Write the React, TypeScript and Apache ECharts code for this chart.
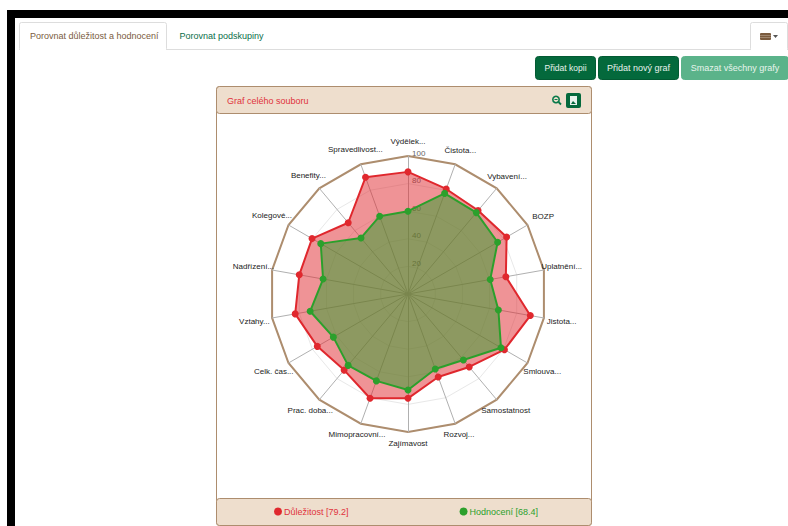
import React, { useEffect, useRef } from "react";
import * as echarts from "echarts";

const categories = ["Výdělek...","Čistota...","Vybavení...","BOZP","Uplatnění...","Jistota...","Smlouva...","Samostatnost","Rozvoj...","Zajímavost","Mimopracovní...","Prac. doba...","Celk. čas...","Vztahy...","Nadřízení...","Kolegové...","Benefity...","Spravedlivost..."];
const importance = [88.5,81,79,82.5,72,90,80.7,69,64,75.6,80.4,72,75.9,83,80,80.3,67.4,90];
const rating = [60,77.6,77,75,60.5,66.5,77.8,62.4,57.8,69.6,67,67.5,62.5,72,62.5,73,53,60];
const importanceLabel = "Důležitost [79.2]";
const ratingLabel = "Hodnocení [68.4]";
const FONT = "'Liberation Sans', Arial, sans-serif";
const BROWN = "#ad8d6e";
const HEAD = "#eedecd";
const DARK = "#04693c";
const labelGaps = [15,15,16,18,18,18,17,14,11,11,11,14,17,18,19,19,17,16];

// ECharts lays radar indicators out anticlockwise; the chart reads clockwise from the top.
const clockwise = <T,>(list: T[]): T[] => [list[0], ...list.slice(1).reverse()];

const txt = (x: number, y: number, text: string, fill: string, size = 9, align = "left") => ({
  type: "text", x, y, silent: true,
  style: { text, fill, font: `${size}px ${FONT}`, textAlign: align, textVerticalAlign: "middle" },
});
const box = (x: number, y: number, w: number, h: number, fill: string, stroke = "none", r = 2, lw = 1) => ({
  type: "rect", silent: true, shape: { x, y, width: w, height: h, r },
  style: { fill, stroke, lineWidth: lw },
});

export default function App() {
  const ref = useRef<HTMLDivElement>(null);
  useEffect(() => {
    const chart = echarts.init(ref.current!, null, { renderer: "svg" });
    const indicator = clockwise(categories.map((name, i) => ({
      name, min: 0, max: 100, nameGap: labelGaps[i],
      axisLabel: i === 0
        ? { show: true, color: "#666", fontSize: 8, margin: -4, align: "left", verticalAlign: "bottom", lineHeight: 6, showMinLabel: false, fontFamily: FONT }
        : { show: false },
    })));
    chart.setOption({
      animation: false,
      textStyle: { fontFamily: FONT },
      graphic: { elements: [
        box(7, 10, 781, 8, "#000", "none", 0),
        box(7, 10, 8, 516, "#000", "none", 0),
        { type: "line", silent: true, shape: { x1: 19, y1: 49.5, x2: 788, y2: 49.5 }, style: { stroke: "#dddddd", lineWidth: 1 } },
        box(19.5, 22.5, 147, 28, "#fff", "#dddddd"),
        { type: "rect", silent: true, shape: { x: 20, y: 45, width: 146, height: 6 }, style: { fill: "#fff" } },
        txt(30, 36, "Porovnat důležitost a hodnocení", "#7a5b3e"),
        txt(179.5, 36, "Porovnat podskupiny", "#0a6e4a"),
        box(750.5, 22.5, 37, 28, "#fff", "#dddddd"),
        { type: "rect", silent: true, shape: { x: 751, y: 45, width: 36, height: 6 }, style: { fill: "#fff" } },
        box(760, 33, 11, 7, "#7a5b3e", "none", 1),
        { type: "line", silent: true, shape: { x1: 760, y1: 35.5, x2: 771, y2: 35.5 }, style: { stroke: "#b9a48f", lineWidth: 0.6 } },
        { type: "line", silent: true, shape: { x1: 760, y1: 37.5, x2: 771, y2: 37.5 }, style: { stroke: "#b9a48f", lineWidth: 0.6 } },
        { type: "polygon", silent: true, shape: { points: [[773, 35], [778, 35], [775.5, 38]] }, style: { fill: "#555" } },
        box(535.5, 56.5, 60, 23, DARK, "#035a33", 3),
        txt(565.5, 68, "Přidat kopii", "#e8f3ec", 8.5, "center"),
        box(598.5, 56.5, 80, 23, DARK, "#035a33", 3),
        txt(638.5, 68, "Přidat nový graf", "#e8f3ec", 9, "center"),
        box(681.5, 56.5, 107, 23, "#5bb38a", "#5bb38a", 3),
        txt(735, 68, "Smazat všechny grafy", "#e8f3ec", 9, "center"),
        box(216.5, 86.5, 375, 439, "#fff", BROWN, 3),
        box(216.5, 86.5, 375, 27, HEAD, BROWN, 3),
        box(216.5, 498.5, 375, 27, HEAD, BROWN, 3),
        txt(227, 100.5, "Graf celého souboru", "#e0323c"),
        { type: "circle", silent: true, shape: { cx: 556, cy: 99.5, r: 3.2 }, style: { fill: "none", stroke: "#0a7a4a", lineWidth: 1.6 } },
        { type: "line", silent: true, shape: { x1: 558.5, y1: 102, x2: 561, y2: 104.5 }, style: { stroke: "#0a7a4a", lineWidth: 1.8 } },
        { type: "line", silent: true, shape: { x1: 554.5, y1: 99.5, x2: 557.5, y2: 99.5 }, style: { stroke: "#0a7a4a", lineWidth: 1 } },
        box(566, 93, 15, 15, DARK, "none", 2),
        box(570, 96, 7, 9, "#e8f3ec", "none", 0),
        { type: "polygon", silent: true, shape: { points: [[571, 104], [573, 101], [576, 104]] }, style: { fill: DARK } },
      ] },
      legend: {
        left: 274, top: 507, itemGap: 111, itemWidth: 8, itemHeight: 8, icon: "circle",
        selectedMode: false, padding: 0,
        textStyle: { fontSize: 9, padding: [0, 0, 0, -3] },
        data: [
          { name: importanceLabel, textStyle: { color: "#e0323c" } },
          { name: ratingLabel, textStyle: { color: "#2ca02c" } },
        ],
      },
      radar: [
        {
          center: [408, 294], radius: 138, startAngle: 90, splitNumber: 5, shape: "polygon",
          indicator,
          axisName: { color: "#222", fontSize: 8, fontFamily: FONT, align: "center", verticalAlign: "middle" },
          axisLine: { lineStyle: { color: "#b0b0b0", width: 1 } },
          axisTick: { show: false },
          axisLabel: { show: false },
          splitLine: { lineStyle: { color: "#e8e8e8", width: 1 } },
          splitArea: { show: false },
        },
        {
          center: [408, 294], radius: 138, startAngle: 90, splitNumber: 1, shape: "polygon",
          indicator: indicator.map(() => ({ min: 0, max: 100, name: "" })),
          axisName: { show: false },
          axisLine: { show: false },
          axisTick: { show: false },
          axisLabel: { show: false },
          splitLine: { lineStyle: { color: BROWN, width: 2 } },
          splitArea: { show: false },
        },
      ],
      series: [{
        type: "radar", radarIndex: 0, symbol: "circle", symbolSize: 7,
        data: [
          { name: importanceLabel, value: clockwise(importance),
            itemStyle: { color: "#e0282e" }, lineStyle: { color: "#e0282e", width: 2 }, areaStyle: { color: "#e0282e", opacity: 0.5 } },
          { name: ratingLabel, value: clockwise(rating),
            itemStyle: { color: "#2ca02c" }, lineStyle: { color: "#2ca02c", width: 2 }, areaStyle: { color: "#2ca02c", opacity: 0.5 } },
        ],
      }],
    });
    return () => chart.dispose();
  }, []);
  return <div ref={ref} style={{ position: "absolute", left: 0, top: 0, width: 788, height: 526, overflow: "hidden" }} />;
}
